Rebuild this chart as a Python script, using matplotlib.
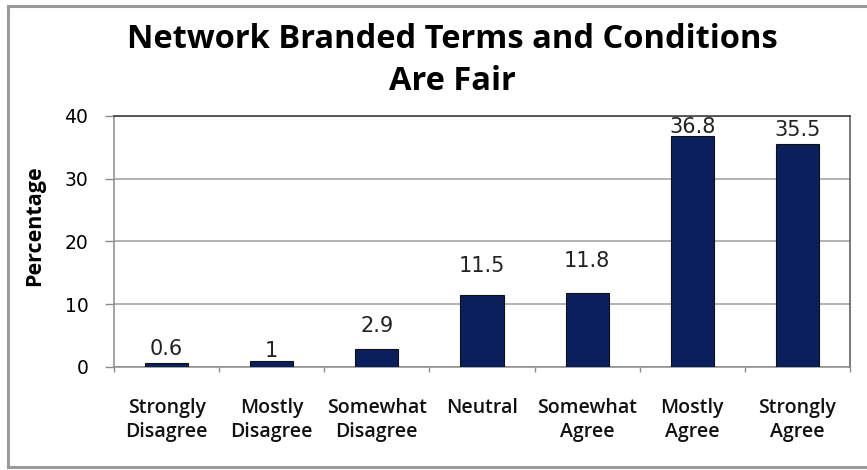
import matplotlib.pyplot as plt
from matplotlib.lines import Line2D

# survey responses (percent)
categories = ["Strongly\nDisagree", "Mostly\nDisagree", "Somewhat\nDisagree", "Neutral",
              "Somewhat\nAgree", "Mostly\nAgree", "Strongly\nAgree"]
values = [0.6, 1, 2.9, 11.5, 11.8, 36.8, 35.5]
value_labels = ["0.6", "1", "2.9", "11.5", "11.8", "36.8", "35.5"]

# gap in pixels between bar top and the value label baseline
label_gap_px = [8, 4, 17, 23, 26, 3, 8]

W, H = 867, 470
fig = plt.figure(figsize=(W / 100, H / 100), dpi=100)
ax = fig.add_axes([114 / W, 1 - 367 / H, (850 - 114) / W, (367 - 116) / H])

x = list(range(len(categories)))
ax.bar(x, values, width=0.41, color="#0b1f5c", edgecolor="#111111", linewidth=0.8, zorder=3)

px_to_pt = 72 / 100
for xi, v, lab, gap in zip(x, values, value_labels, label_gap_px):
    ax.annotate(lab, (xi, v), xytext=(0, gap * px_to_pt), textcoords="offset points",
                ha="center", va="baseline", fontsize=15, family="DejaVu Sans",
                color="#222222", zorder=4, annotation_clip=False)

ax.set_xlim(-0.5, len(categories) - 0.5)
ax.set_ylim(0, 40)
ax.set_yticks([0, 10, 20, 30, 40])
ax.set_yticklabels(["0", "10", "20", "30", "40"], family="DejaVu Sans", fontsize=13.5)
ax.yaxis.grid(True, color="#a6a6a6", linewidth=1.2, zorder=0)

# category labels between boundary ticks
ax.set_xticks([i - 0.5 for i in range(len(categories) + 1)])
ax.set_xticklabels([])
ax.set_xticks(x, minor=True)
ax.set_xticklabels(categories, minor=True, family="Open Sans", fontweight="semibold",
                   fontsize=14, linespacing=1.3, color="#111111")
ax.tick_params(axis="x", which="minor", length=0, pad=22)
ax.tick_params(axis="x", which="major", length=3.6, color="#8c8c8c", width=1)
ax.tick_params(axis="y", length=6.5, color="#8c8c8c", width=1, pad=12)

ax.spines["left"].set_color("#8c8c8c")
ax.spines["bottom"].set_color("#8c8c8c")
ax.spines["top"].set_color("#333333")
ax.spines["right"].set_color("#555555")
for s in ax.spines.values():
    s.set_linewidth(1.1)

fig.text(35 / W, 1 - 226 / H, "Percentage", rotation=90, ha="center", va="center",
         family="Open Sans", fontweight="bold", fontsize=15.5)

fig.text(452 / W, 1 - 39 / H, "Network Branded Terms and Conditions", ha="center",
         va="center", family="Open Sans", fontweight="bold", fontsize=23.5)
fig.text(452 / W, 1 - 82 / H, "Are Fair", ha="center", va="center",
         family="Open Sans", fontweight="bold", fontsize=23.5)

# outer chart frame
frame_kw = dict(color="#9a9a9a", linewidth=2.2, transform=fig.transFigure)
fig.add_artist(Line2D([8 / W, 8 / W], [1 - 6 / H, 1 - 467 / H], **frame_kw))
fig.add_artist(Line2D([8 / W, 866 / W], [1 - 6 / H, 1 - 6 / H], **frame_kw))
fig.add_artist(Line2D([8 / W, 866 / W], [1 - 467 / H, 1 - 467 / H], **frame_kw))

fig.savefig("out.png", dpi=100)
